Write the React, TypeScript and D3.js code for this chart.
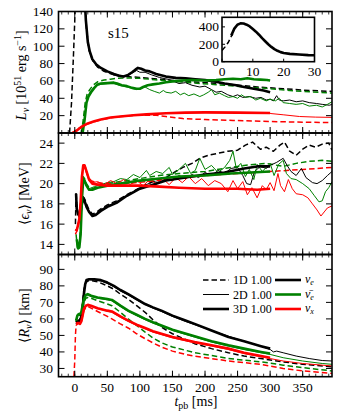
import React from "react";
import * as d3 from "d3";

type P = [number, number];

// ---------- Luminosity panel (10^51 erg/s) ----------
const L_nue_1D: P[] = [[-8,0],[-5,35],[-2,90],[0,130],[2,200],[5,400],[8,440],[12,300],[15,170],[18,120],[22,95],[28,83],[35,76],[45,71],[60,67],[80,65],[100,64],[130,62],[160,60],[200,58],[240,56],[280,53],[320,51],[360,49],[395,48]];
const L_nue_2D: P[] = [[10,400],[13,220],[16,140],[19,110],[22,96],[26,86],[32,80],[40,75],[50,71],[60,67],[70,65],[80,66],[88,69],[95,72],[100,70],[108,70],[118,67],[130,64],[142,62],[150,60],[160,57],[170,58],[180,55],[192,53],[200,54],[210,50],[217,47],[225,48],[235,44],[243,42],[250,44],[258,41],[268,42],[278,40],[286,41],[294,38],[300,39],[305,37],[310,43],[314,38],[320,37],[330,38],[340,36],[350,37],[360,35],[371,34],[380,33],[391,32],[395,33]];
const L_nue_3D: P[] = [[8,400],[12,250],[15,160],[17,130],[20,105],[23,94],[27,85],[33,79],[40,75],[50,71],[60,68],[68,66],[75,65],[82,67],[88,70],[93,73],[97,75],[102,74],[108,72],[115,71],[125,68],[140,65],[155,63.5],[170,63],[185,62],[200,61],[217,59],[230,57],[248,55],[260,53],[275,51],[290,49],[300,47]];
const L_anue_1D: P[] = [[10,0],[13,15],[16,35],[19,45],[23,50],[28,55],[35,59],[45,61],[55,62],[65,63],[80,63.5],[100,63],[130,61],[160,59],[192,57],[230,55],[260,53],[294,51.5],[330,49],[360,47.5],[395,46]];
const L_anue_2D: P[] = [[12,0],[15,18],[18,37],[21,44],[25,49],[30,53],[35,55],[40,56],[50,57],[60,57],[68,55],[75,54],[85,52],[95,50],[100,51],[108,53],[115,50],[122,48],[130,46],[136,49],[140,47],[148,46],[155,48],[162,44],[168,46],[175,43],[183,45],[192,42],[198,44],[205,47],[210,50],[215,44],[222,46],[230,43],[236,41],[243,42],[250,40],[256,44],[262,41],[270,42],[278,38],[285,40],[294,37],[300,39],[308,37],[314,40],[320,35],[330,34],[340,33],[350,34],[360,31],[371,32],[380,30],[388,33],[395,36]];
const L_anue_3D: P[] = [[12,0],[15,15],[18,35],[21,42],[25,47],[30,52],[35,56],[40,57],[50,57.5],[60,58],[65,57],[72,55],[80,54],[88,52],[95,51],[100,51],[105,53],[112,55],[120,56],[130,57],[140,58.5],[150,59.5],[165,60.5],[180,61],[200,60.5],[217,61],[230,62],[243,62.5],[255,62],[265,63],[275,62],[285,61.5],[295,61],[300,60.5]];
const L_nux_1D: P[] = [[-5,0],[0,2],[5,5],[10,7],[15,9],[20,10.5],[30,13],[40,15],[55,17.5],[70,19],[90,20.3],[110,20.6],[125,20.4],[140,19],[166,16.6],[200,15.5],[243,14.5],[300,13.2],[350,12.5],[395,12]];
const L_nux_2D: P[] = [[-3,0],[0,1],[5,4],[10,7],[15,9],[20,11],[30,13.5],[40,15.5],[55,17.8],[70,19],[90,20.5],[110,21.4],[140,22.6],[170,23.3],[200,23.5],[250,23.2],[300,22.5],[320,21],[345,19],[370,18.3],[395,18]];
const L_nux_3D: P[] = [[-3,0],[0,1],[5,4],[10,7],[15,9],[20,11],[30,13.5],[40,15.5],[55,17.8],[70,19],[90,20.5],[110,21.5],[140,22.8],[170,23.5],[200,23.8],[250,23.5],[300,23]];

// inset (0-30 ms)
const inset_1D: P[] = [[0,130],[1,170],[2,220],[3,290],[3.5,320]];
const inset_3D: P[] = [[3,300],[4,380],[5,425],[6,440],[7,438],[8,425],[9,405],[10,375],[11,345],[12,310],[13,270],[14,235],[15,200],[16,170],[17,145],[18,125],[19,110],[20,100],[22,90],[25,82],[28,76],[30,74]];

// ---------- Mean energy panel (MeV) ----------
const E_nue_1D: P[] = [[1,16],[2,19.2],[3,18],[5,17],[7,16.8],[9,17.5],[11,18.3],[13,18.7],[15,18.5],[18,18],[22,17.4],[27,17],[32,17.1],[40,17.5],[50,17.9],[64,18.3],[80,18.9],[100,19.6],[120,20.2],[140,20.6],[155,21.2],[166,21.6],[180,22],[192,22.5],[205,22.8],[220,23],[235,23.2],[250,23.3],[262,23.8],[273,24.1],[285,23.4],[294,23.6],[305,23.2],[315,23.8],[322,24.1],[330,23.2],[340,22.8],[350,23.4],[360,23.8],[370,23.6],[380,23.9],[390,24],[395,23.3]];
const E_nue_2D: P[] = [[2,19],[3,17.6],[5,17],[7,16.9],[9,17.3],[11,18.1],[13,18.6],[15,18.4],[18,17.8],[22,17.3],[27,16.9],[32,17],[40,17.4],[50,17.8],[64,18.2],[80,18.8],[100,19.6],[110,19.9],[120,20.2],[130,20.1],[140,20.5],[150,20.3],[160,20.8],[170,20.5],[180,20.9],[190,20.6],[200,21.1],[210,20.8],[220,21.3],[230,21],[240,21.5],[250,21.6],[258,20.8],[264,20],[270,19.9],[276,21.2],[285,21.7],[294,21.5],[300,21.8],[310,22.1],[320,22.5],[326,21.8],[332,21.2],[340,20.8],[348,21.5],[355,20.6],[365,20.1],[372,20],[380,20.3],[388,20.8],[395,21.2]];
const E_nue_3D: P[] = [[2,19],[3,17.5],[5,17],[7,16.8],[9,17.2],[11,18],[13,18.6],[15,18.3],[18,17.7],[22,17.2],[27,16.8],[32,16.9],[40,17.3],[50,17.7],[64,18.1],[80,18.8],[100,19.5],[120,19.9],[140,20.3],[170,20.6],[200,20.9],[230,21.1],[260,21.5],[280,21.7],[300,21.7]];
const E_anue_1D: P[] = [[2,15],[4,13.7],[6,13.6],[8,14.5],[10,17.5],[12,20],[13,20.7],[15,20.5],[18,20],[22,19.6],[27,19.5],[35,19.7],[50,20],[70,20.2],[100,20.5],[130,20.8],[160,21],[200,21.2],[230,21.5],[260,21.8],[294,22],[320,21.7],[340,22],[360,22.2],[380,22.3],[395,22.2]];
const E_anue_2D: P[] = [[3,14.5],[5,13.8],[7,14],[9,15.5],[11,18.8],[13,20.4],[15,20.2],[18,19.7],[22,19.5],[30,19.7],[40,19.9],[50,20.1],[60,20.2],[70,20.5],[80,20.4],[90,20.9],[100,20.6],[110,21.3],[115,20.8],[125,21.2],[135,21],[145,21.6],[150,20.9],[160,21.4],[170,22],[178,21],[185,21.3],[192,22.5],[200,21.4],[210,21.8],[220,21.1],[230,21.6],[238,22.3],[243,23.2],[248,21.5],[255,22],[262,20.7],[268,21.4],[275,20.4],[280,21.9],[288,21.2],[294,21.6],[300,22],[306,20.8],[313,21.9],[320,22.3],[325,21],[332,20.5],[340,20.4],[350,20],[360,19.5],[368,18.8],[375,18.2],[380,18.3],[385,19.2],[390,19.6],[395,20.2]];
const E_anue_3D: P[] = [[3,14.5],[5,13.6],[7,13.7],[9,15],[11,18.5],[13,20.5],[15,20.3],[18,19.8],[22,19.4],[27,19.4],[35,19.6],[50,19.8],[70,20],[100,20.3],[130,20.5],[160,20.7],[200,20.8],[240,21],[270,21.1],[300,21.2]];
const E_nux_1D: P[] = [[1,15],[3,15.3],[5,15.8],[7,16.5],[9,18],[11,20.5],[13,21.7],[15,21.8],[17,21.5],[20,20.8],[25,20.3],[32,20.1],[50,20],[80,20],[110,20.2],[150,20.5],[200,20.8],[250,21],[300,21.2],[350,21.4],[395,21.6]];
const E_nux_2D: P[] = [[1,15.5],[3,15.3],[5,16],[7,16.7],[9,18.3],[11,20.8],[13,21.8],[15,21.7],[18,21],[22,20.3],[27,20.1],[35,20.2],[45,19.9],[55,20.3],[65,20],[75,20.4],[85,19.9],[95,20.3],[105,19.8],[115,20.4],[125,20],[135,20.5],[145,19.9],[155,20.6],[165,20.1],[175,20.7],[185,20],[195,20.5],[205,19.8],[215,20.3],[225,20],[235,19.2],[243,20.3],[250,19.5],[258,20.2],[265,18.9],[272,19.6],[280,18.6],[288,19.8],[294,19.4],[300,20.1],[306,19.3],[312,21],[316,19.8],[322,19.2],[328,20.4],[334,19.5],[340,19],[350,18.9],[358,18.6],[365,18],[372,17.4],[378,16.8],[383,17.2],[388,17.6],[395,17.8]];
const E_nux_3D: P[] = [[1,15.5],[3,15.4],[5,15.9],[7,16.5],[9,18.2],[11,20.7],[13,21.8],[15,21.8],[18,21.2],[22,20.4],[27,20],[35,19.9],[50,19.8],[80,19.8],[100,19.8],[130,19.7],[160,19.6],[200,19.5],[250,19.5],[280,19.4],[300,19.5]];

// ---------- Mean radius panel (km) ----------
const R_nue_1D: P[] = [[2,57],[4,58],[6,58],[8,59],[10,61],[12,70],[14,78],[17,82],[20,83],[25,83.2],[35,82.5],[50,80],[60,78],[70,75],[82,72],[95,68],[108,64],[120,59.5],[133,55],[150,51],[170,47.5],[184,45],[210,42],[236,39.5],[260,37.5],[286,36],[320,34],[350,32.5],[395,31]];
const R_nue_2D: P[] = [[2,58],[4,58.5],[6,59],[8,59.5],[10,61],[12,66],[14,75],[16,81],[18,83.2],[22,83.7],[30,83.5],[40,83],[50,81.5],[60,79.5],[70,77],[82,74.5],[95,71.5],[108,68.7],[120,66.5],[133,64.5],[150,61.5],[170,58.5],[184,56.5],[210,53],[236,49.5],[260,46.5],[286,43.5],[300,41.5],[305,40],[310,40.5],[320,39.5],[340,37.5],[360,36],[380,34.8],[395,34.5]];
const R_nue_3D: P[] = [[2,58],[4,58.5],[6,59],[8,59.5],[10,61],[12,66],[14,75],[16,81],[18,83.5],[22,84],[30,84],[40,83.5],[50,82],[60,80],[70,77.5],[82,75],[95,72],[108,69],[120,67],[133,65],[150,62],[170,59],[184,57],[210,53],[236,49],[260,46.5],[286,43.5],[300,42]];
const R_anue_1D: P[] = [[2,58],[4,62],[6,62.5],[8,62],[10,63],[12,66],[14,70],[17,72.5],[20,73],[25,72.5],[35,71],[50,69],[57,68],[70,64],[82,60],[95,56],[108,52],[120,48.5],[133,45.6],[150,43],[170,41],[184,39.6],[210,37.8],[236,36],[260,35],[286,34],[320,32],[350,30.5],[395,28.5]];
const R_anue_2D: P[] = [[2,59],[4,62],[6,63],[8,63],[10,64],[12,68],[14,72],[17,74],[20,74.5],[25,73.5],[35,72.5],[50,71.5],[57,71],[70,67.5],[82,64.5],[95,62],[108,59.5],[120,57.5],[133,55.5],[150,53],[184,49],[210,46],[236,43.5],[260,41.5],[286,39.5],[300,38.5],[320,36.5],[350,34.5],[380,33],[395,32.5]];
const R_anue_3D: P[] = [[2,59],[4,62],[6,63],[8,63],[10,64],[12,68],[14,72],[17,74.5],[20,75],[25,74],[35,73],[50,72],[57,71.5],[70,68],[82,65],[95,62.5],[108,60],[120,58],[133,56],[150,53.5],[184,49.5],[210,46.5],[236,44],[260,42],[286,40],[300,39]];
const R_nux_1D: P[] = [[-2,20],[0,35],[1,50],[2,56],[4,57],[6,57.5],[8,57],[10,58],[12,62],[14,65],[17,67],[20,67.5],[25,66.5],[35,64.5],[50,61.5],[57,60],[70,57],[82,54.5],[95,51],[108,48],[120,45.5],[133,43],[150,40.5],[170,38.5],[184,37.5],[210,36],[236,34.5],[260,33.5],[286,32.5],[320,30],[350,28.5],[395,27]];
const R_nux_2D: P[] = [[2,57],[4,57.5],[6,57.5],[8,57],[10,58.5],[12,62],[14,66],[17,67.7],[20,68.2],[25,67.7],[35,66.2],[50,64.7],[57,64],[70,61],[82,58.5],[95,56],[108,54],[120,52],[133,50.5],[150,48.5],[184,45.5],[210,43.5],[236,41.5],[260,39],[286,37],[300,36],[320,34.5],[350,33],[380,32],[395,31.5]];
const R_nux_3D: P[] = [[2,57],[4,57.5],[6,57.5],[8,57],[10,58.5],[12,62],[14,66],[17,68],[20,68.5],[25,68],[35,66.5],[50,65],[57,64.5],[70,61.5],[82,59],[95,56.5],[108,54.5],[120,52.5],[133,51],[150,49],[184,46],[210,44],[236,42],[260,39.5],[286,37.5],[300,36.5]];

// ---------- ticks / labels ----------
const xMajorTicks = [0, 50, 100, 150, 200, 250, 300, 350];
const xMinorTicks = d3.range(-20, 400, 10);
const lTicks = [20, 40, 60, 80, 100, 120, 140];
const eTicks = [14, 16, 18, 20, 22, 24];
const rTicks = [30, 40, 50, 60, 70, 80, 90];
const insetXTicks = [0, 10, 20, 30];
const insetYTicks = [0, 200, 400];
const legendDims = ["1D 1.00", "2D 1.00", "3D 1.00"];

const BLACK = "#000000";
const GREEN = "#008000";
const RED = "#ff0000";
const FONT = "'Liberation Serif', 'DejaVu Serif', serif";
const TICK_FS = 13.5;

const X0 = 58.5, X1 = 332;
const PANELS = [
  { top: 11.5, bottom: 133 },
  { top: 133, bottom: 254.5 },
  { top: 254.5, bottom: 376.7 },
];

const x = d3.scaleLinear().domain([-25, 395]).range([X0, X1]);
const yL = d3.scaleLinear().domain([0, 140]).range([PANELS[0].bottom, PANELS[0].top]);
const yE = d3.scaleLinear().domain([13, 25]).range([PANELS[1].bottom, PANELS[1].top]);
const yR = d3.scaleLinear().domain([25, 99]).range([PANELS[2].bottom, PANELS[2].top]);

const ix = d3.scaleLinear().domain([0, 30]).range([222, 314.5]);
const iy = d3.scaleLinear().domain([0, 510]).range([61.7, 17.3]);

type Style = { color: string; width: number; dash?: string };
const S1D = (c: string): Style => ({ color: c, width: 1.5, dash: "5.5,3" });
const S2D = (c: string): Style => ({ color: c, width: 1 });
const S3D = (c: string): Style => ({ color: c, width: 2.6 });

const Lseries: [P[], Style][] = [
  [L_nue_1D, S1D(BLACK)], [L_anue_1D, S1D(GREEN)], [L_nux_1D, S1D(RED)],
  [L_nue_2D, S2D(BLACK)], [L_anue_2D, S2D(GREEN)], [L_nux_2D, S2D(RED)],
  [L_nue_3D, S3D(BLACK)], [L_anue_3D, S3D(GREEN)], [L_nux_3D, S3D(RED)],
];
const Eseries: [P[], Style][] = [
  [E_nue_1D, S1D(BLACK)], [E_anue_1D, S1D(GREEN)], [E_nux_1D, S1D(RED)],
  [E_nue_2D, S2D(BLACK)], [E_anue_2D, S2D(GREEN)], [E_nux_2D, S2D(RED)],
  [E_nue_3D, S3D(BLACK)], [E_anue_3D, S3D(GREEN)], [E_nux_3D, S3D(RED)],
];
const Rseries: [P[], Style][] = [
  [R_nue_1D, S1D(BLACK)], [R_anue_1D, S1D(GREEN)], [R_nux_1D, S1D(RED)],
  [R_nue_2D, S2D(BLACK)], [R_anue_2D, S2D(GREEN)], [R_nux_2D, S2D(RED)],
  [R_nue_3D, S3D(BLACK)], [R_anue_3D, S3D(GREEN)], [R_nux_3D, S3D(RED)],
];

function Lines({ series, y, clip }: { series: [P[], Style][]; y: d3.ScaleLinear<number, number>; clip: string }) {
  const gen = d3.line<P>().x((d) => x(d[0])).y((d) => y(d[1]));
  return (
    <g clipPath={`url(#${clip})`}>
      {series.map(([data, s], i) => (
        <path key={i} d={gen(data) || ""} fill="none" stroke={s.color} strokeWidth={s.width}
          strokeDasharray={s.dash} strokeLinejoin="round" />
      ))}
    </g>
  );
}

function Frame({ idx, y, yticks, showX }: { idx: number; y: d3.ScaleLinear<number, number>; yticks: number[]; showX: boolean }) {
  const { top, bottom } = PANELS[idx];
  return (
    <g>
      {xMinorTicks.map((t) => (
        <g key={"m" + t}>
          <line x1={x(t)} x2={x(t)} y1={bottom} y2={bottom - 3} stroke="#000" strokeWidth={0.8} />
          <line x1={x(t)} x2={x(t)} y1={top} y2={top + 3} stroke="#000" strokeWidth={0.8} />
        </g>
      ))}
      {xMajorTicks.map((t) => (
        <g key={"M" + t}>
          <line x1={x(t)} x2={x(t)} y1={bottom} y2={bottom - 6} stroke="#000" strokeWidth={1} />
          <line x1={x(t)} x2={x(t)} y1={top} y2={top + 6} stroke="#000" strokeWidth={1} />
          {showX && (
            <text x={x(t)} y={392} textAnchor="middle" fontSize={TICK_FS} fontFamily={FONT}>{t}</text>
          )}
        </g>
      ))}
      {yticks.map((v) => (
        <g key={"y" + v}>
          <line x1={X0} x2={X0 + 6} y1={y(v)} y2={y(v)} stroke="#000" strokeWidth={1} />
          <line x1={X1} x2={X1 - 6} y1={y(v)} y2={y(v)} stroke="#000" strokeWidth={1} />
          <text x={53} y={y(v) + 4.5} textAnchor="end" fontSize={TICK_FS} fontFamily={FONT}>{v}</text>
        </g>
      ))}
      <rect x={X0} y={top} width={X1 - X0} height={bottom - top} fill="none" stroke="#000" strokeWidth={1.6} />
    </g>
  );
}

export default function App() {
  const lineI = d3.line<P>().x((d) => ix(d[0])).y((d) => iy(d[1]));
  const legendRows = [280, 294.5, 309];
  const rowStyles: Style[] = [S1D(BLACK), S2D(BLACK), S3D(BLACK)];
  const flavorStyles: Style[] = [S3D(BLACK), S3D(GREEN), S3D(RED)];
  return (
    <svg width={339} height={417} style={{ position: "absolute", left: 0, top: 0, background: "#fff" }}>
      <defs>
        {PANELS.map((p, i) => (
          <clipPath id={"clip" + i} key={i}>
            <rect x={X0} y={p.top} width={X1 - X0} height={p.bottom - p.top} />
          </clipPath>
        ))}
        <clipPath id="clipInset">
          <rect x={ix(0)} y={iy(510)} width={ix(30) - ix(0)} height={iy(0) - iy(510)} />
        </clipPath>
      </defs>

      <Lines series={Lseries} y={yL} clip="clip0" />
      <Lines series={Eseries} y={yE} clip="clip1" />
      <Lines series={Rseries} y={yR} clip="clip2" />

      <Frame idx={0} y={yL} yticks={lTicks} showX={false} />
      <Frame idx={1} y={yE} yticks={eTicks} showX={false} />
      <Frame idx={2} y={yR} yticks={rTicks} showX={true} />

      {/* s15 label */}
      <text x={108} y={38} fontSize={15} fontFamily={FONT}>s15</text>

      {/* inset */}
      <rect x={ix(0)} y={iy(510)} width={ix(30) - ix(0)} height={iy(0) - iy(510)} fill="#fff" />
      <g clipPath="url(#clipInset)">
        <path d={lineI(inset_1D) || ""} fill="none" stroke="#000" strokeWidth={1.5} strokeDasharray="5,3" />
        <path d={lineI(inset_3D) || ""} fill="none" stroke="#000" strokeWidth={2.6} strokeLinejoin="round" />
      </g>
      {insetXTicks.map((t) => (
        <g key={"ix" + t}>
          <line x1={ix(t)} x2={ix(t)} y1={iy(0)} y2={iy(0) - 3} stroke="#000" />
          <text x={ix(t)} y={76} textAnchor="middle" fontSize={TICK_FS} fontFamily={FONT}>{t}</text>
        </g>
      ))}
      {insetYTicks.map((v) => (
        <g key={"iy" + v}>
          <line x1={ix(0)} x2={ix(0) + 3} y1={iy(v)} y2={iy(v)} stroke="#000" />
          <text x={219} y={iy(v) + 4.5} textAnchor="end" fontSize={TICK_FS} fontFamily={FONT}>{v}</text>
        </g>
      ))}
      <rect x={ix(0)} y={iy(510)} width={ix(30) - ix(0)} height={iy(0) - iy(510)} fill="none" stroke="#000" strokeWidth={1.6} />

      {/* legend */}
      {legendDims.map((lab, i) => (
        <g key={lab}>
          <line x1={203} x2={229} y1={legendRows[i]} y2={legendRows[i]} stroke={rowStyles[i].color}
            strokeWidth={rowStyles[i].width} strokeDasharray={rowStyles[i].dash} />
          <text x={233} y={legendRows[i] + 4} fontSize={12} fontFamily={FONT}>{lab}</text>
          <line x1={275} x2={301} y1={legendRows[i]} y2={legendRows[i]} stroke={flavorStyles[i].color}
            strokeWidth={flavorStyles[i].width} />
        </g>
      ))}
      <text x={305} y={legendRows[0] + 3} fontSize={12} fontFamily={FONT} fontStyle="italic">ν<tspan fontSize={8} dy={2}>e</tspan></text>
      <text x={305} y={legendRows[1] + 3} fontSize={12} fontFamily={FONT} fontStyle="italic">ν̄<tspan fontSize={8} dy={2}>e</tspan></text>
      <text x={305} y={legendRows[2] + 3} fontSize={12} fontFamily={FONT} fontStyle="italic">ν<tspan fontSize={8} dy={2}>x</tspan></text>

      {/* y labels */}
      <text transform={`translate(26,${(PANELS[0].top + PANELS[0].bottom) / 2 + 3}) rotate(-90)`} textAnchor="middle" fontSize={14} fontFamily={FONT}>
        <tspan fontStyle="italic">L</tspan><tspan fontStyle="italic" fontSize={10} dy={3}>ν</tspan>
        <tspan dy={-3}> [10</tspan><tspan fontSize={10} dy={-5}>51</tspan><tspan dy={5}> erg s</tspan><tspan fontSize={10} dy={-5}>−1</tspan><tspan dy={5}>]</tspan>
      </text>
      <text transform={`translate(29,${(PANELS[1].top + PANELS[1].bottom) / 2}) rotate(-90)`} textAnchor="middle" fontSize={14} fontFamily={FONT}>
        <tspan>⟨</tspan><tspan fontStyle="italic">ϵ</tspan><tspan fontStyle="italic" fontSize={10} dy={3}>ν</tspan><tspan dy={-3}>⟩ [MeV]</tspan>
      </text>
      <text transform={`translate(29,${(PANELS[2].top + PANELS[2].bottom) / 2}) rotate(-90)`} textAnchor="middle" fontSize={14} fontFamily={FONT}>
        <tspan>⟨</tspan><tspan fontStyle="italic">R</tspan><tspan fontStyle="italic" fontSize={10} dy={3}>ν</tspan><tspan dy={-3}>⟩ [km]</tspan>
      </text>

      {/* x label */}
      <text x={196} y={406} textAnchor="middle" fontSize={14} fontFamily={FONT}>
        <tspan fontStyle="italic">t</tspan><tspan fontSize={10} dy={3}>pb</tspan><tspan dy={-3}> [ms]</tspan>
      </text>
    </svg>
  );
}
